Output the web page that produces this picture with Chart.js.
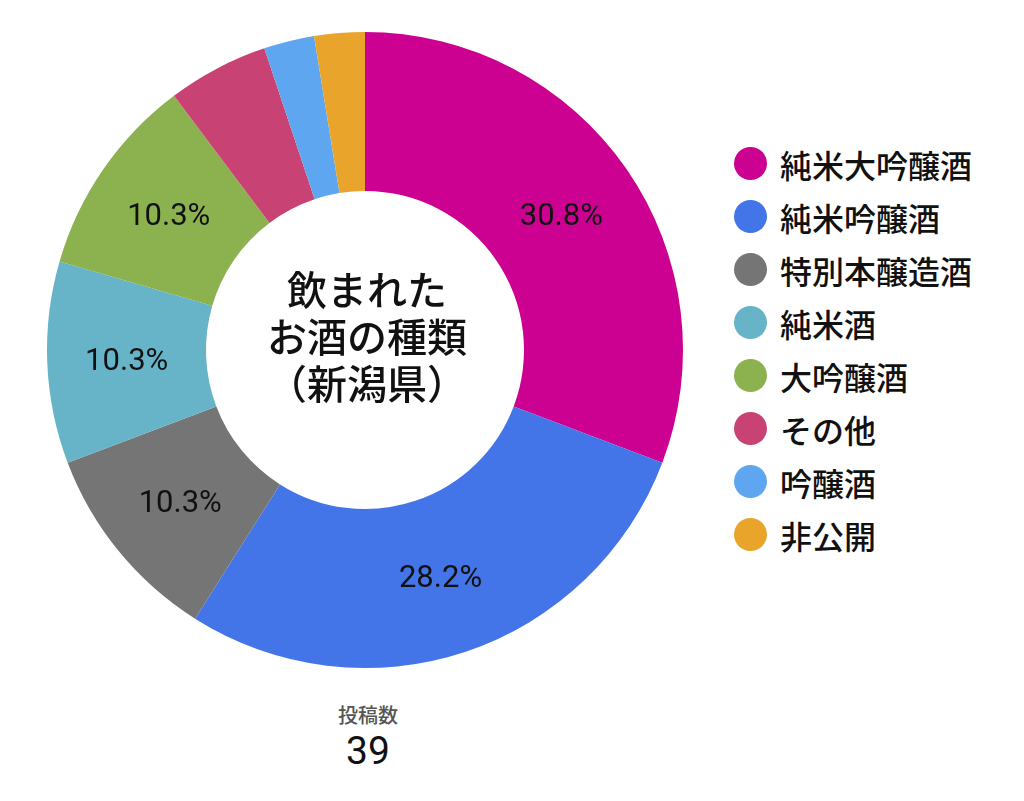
<!DOCTYPE html>
<html>
<head>
  <meta charset="UTF-8">
  <title>飲まれたお酒の種類（新潟県）</title>
  <script src="https://cdn.jsdelivr.net/npm/chart.js"></script>
  <style>
    body {
      margin: 0;
      background: #fff;
      font-family: "Noto Sans CJK JP", "Noto Sans", sans-serif;
    }

    #wrap {
      position: relative;
      width: 1024px;
      height: 801px;
      overflow: hidden;
    }

    #chart-box {
      position: absolute;
      left: 0;
      top: 0;
      width: 730px;
      height: 700px;
    }

    #legend {
      position: absolute;
      left: 734px;
      top: 137px;
      margin: 0;
      padding: 0;
      list-style: none;
    }

    #legend li {
      display: flex;
      align-items: center;
      height: 53px;
      font-size: 32px;
      font-weight: 500;
      color: #111;
    }

    #legend .dot {
      width: 33px;
      height: 33px;
      border-radius: 50%;
      margin-right: 13px;
      flex: none;
    }

    #total-label {
      position: absolute;
      left: 268px;
      width: 200px;
      top: 701px;
      text-align: center;
      font-size: 20px;
      line-height: 28px;
      font-weight: 500;
      color: #555;
    }

    #total-value {
      position: absolute;
      left: 268px;
      width: 200px;
      top: 728px;
      text-align: center;
      font-family: Roboto, sans-serif;
      font-size: 39px;
      line-height: 46px;
      color: #111;
    }
  </style>
</head>
<body>
  <div id="wrap">
    <div id="chart-box"><canvas id="sakeChart"></canvas></div>
    <ul id="legend"></ul>
    <div id="total-label"></div>
    <div id="total-value"></div>
  </div>

  <script>
    const labels = ["純米大吟醸酒", "純米吟醸酒", "特別本醸造酒", "純米酒", "大吟醸酒", "その他", "吟醸酒", "非公開"];
    const counts = [12, 11, 4, 4, 4, 2, 1, 1];
    const colors = ["#cc0091", "#4374e8", "#757575", "#67b4c9", "#8cb14f", "#c84373", "#5ea7f0", "#e9a52b"];
    const centerLines = ["飲まれた", "お酒の種類", "（新潟県）"];
    const totalTitle = "投稿数";

    const total = counts.reduce((a, b) => a + b, 0);

    // percentage text in the middle of each big enough slice
    const sliceLabels = {
      id: "sliceLabels",
      afterDatasetsDraw(chart) {
        const ctx = chart.ctx;
        const meta = chart.getDatasetMeta(0);
        ctx.save();
        ctx.font = "31px Roboto, sans-serif";
        ctx.fillStyle = "#111";
        ctx.textAlign = "center";
        ctx.textBaseline = "middle";
        meta.data.forEach((arc, i) => {
          const pct = counts[i] / total * 100;
          if (pct < 8) return;
          const p = arc.tooltipPosition();
          ctx.fillText(pct.toFixed(1) + "%", p.x, p.y + 3);
        });
        ctx.restore();
      }
    };

    // title in the hole
    const centerText = {
      id: "centerText",
      afterDraw(chart) {
        const ctx = chart.ctx;
        const arc = chart.getDatasetMeta(0).data[0];
        if (!arc) return;
        ctx.save();
        ctx.font = "500 40px 'Noto Sans CJK JP', sans-serif";
        ctx.fillStyle = "#111";
        ctx.textAlign = "center";
        ctx.textBaseline = "middle";
        centerLines.forEach((line, i) => {
          ctx.fillText(line, arc.x + 2, arc.y - 13 + (i - 1) * 47);
        });
        ctx.restore();
      }
    };

    const chart = new Chart(document.getElementById("sakeChart"), {
      type: "doughnut",
      data: {
        labels: labels,
        datasets: [{
          data: counts,
          backgroundColor: colors,
          borderWidth: 0
        }]
      },
      options: {
        responsive: true,
        maintainAspectRatio: false,
        animation: false,
        cutout: "50%",
        layout: {
          padding: { left: 47, top: 32, right: 47, bottom: 32 }
        },
        plugins: {
          legend: { display: false },
          tooltip: { enabled: false }
        }
      },
      plugins: [sliceLabels, centerText]
    });

    // html legend built from the chart's own legend items
    const legendEl = document.getElementById("legend");
    chart.options.plugins.legend.labels.generateLabels(chart).forEach(item => {
      const li = document.createElement("li");
      const dot = document.createElement("span");
      dot.className = "dot";
      dot.style.background = item.fillStyle;
      li.appendChild(dot);
      li.appendChild(document.createTextNode(item.text));
      legendEl.appendChild(li);
    });

    document.getElementById("total-label").textContent = totalTitle;
    document.getElementById("total-value").textContent = total;
  </script>
</body>
</html>
